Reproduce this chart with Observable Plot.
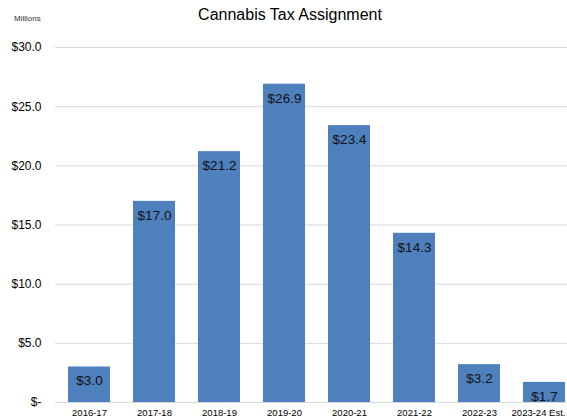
<!DOCTYPE html>
<html><head><meta charset="utf-8">
<script src="https://cdn.jsdelivr.net/npm/d3@7"></script>
<script src="https://cdn.jsdelivr.net/npm/@observablehq/plot@0.6"></script>
<style>
html,body{margin:0;padding:0;background:#fff;overflow:hidden;width:567px;height:419px;}
#wrap{position:relative;width:567px;height:419px;overflow:hidden;font-family:"Liberation Sans",Arial,sans-serif;}
#title{position:absolute;left:0;width:580px;top:6px;text-align:center;font-size:16px;color:#000;}
#units{position:absolute;left:14px;top:14px;font-size:8px;color:#333;}
#chart{position:absolute;left:0;top:0;width:580px;height:419px;}
#chart svg{max-width:none !important;width:580px;height:419px;}
</style></head>
<body><div id="wrap"><div id="chart"></div><div id="title">Cannabis Tax Assignment</div><div id="units">Millions</div></div>
<script>
const years = ["2016-17","2017-18","2018-19","2019-20","2020-21","2021-22","2022-23","2023-24 Est."];
const values = [3.0,17.0,21.2,26.9,23.4,14.3,3.2,1.7];
const yTicks = [0,5,10,15,20,25,30];
const data = years.map((y,i)=>({year:y,value:values[i]}));
const fmt = d => d===0 ? "$-" : "$"+d.toFixed(1);
const chart = Plot.plot({
  width:580, height:419,
  marginLeft:55, marginRight:2, marginTop:47, marginBottom:17,
  style:{fontFamily:"'Liberation Sans', Arial, sans-serif", background:"#fff", color:"#000", maxWidth:"none"},
  x:{domain:years, paddingInner:0.36, paddingOuter:0.18, label:null},
  y:{domain:[0,30], label:null},
  marks:[
    Plot.ruleY(yTicks,{stroke:"#d9d9d9", strokeWidth:1}),
    Plot.barY(data,{x:"year", y:"value", fill:"#4e80bd"}),
    Plot.text(data,{x:"year", y:"value", text:d=>"$"+d.value.toFixed(1), dy:14, fontSize:13.5, fill:"#111", lineAnchor:"middle"}),
    Plot.axisY({ticks:yTicks, tickFormat:fmt, tickSize:0, tickPadding:14, fontSize:12, label:null}),
    Plot.axisX({ticks:years.slice(0,7), tickSize:0, tickPadding:7, fontSize:9.5, label:null}),
    Plot.axisX({ticks:years.slice(7), tickSize:0, tickPadding:7, fontSize:9.5, label:null, dx:-6})
  ]
});
chart.style.maxWidth = "none";
document.getElementById("chart").appendChild(chart);
</script></body></html>
